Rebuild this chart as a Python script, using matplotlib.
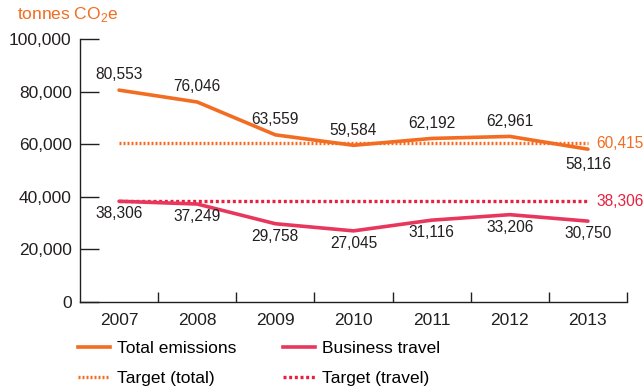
import matplotlib
matplotlib.use("Agg")
import matplotlib.pyplot as plt
from matplotlib.lines import Line2D

plt.rcParams['font.family'] = ['Liberation Sans', 'DejaVu Sans']

years = ['2007', '2008', '2009', '2010', '2011', '2012', '2013']
total_emissions = [80553, 76046, 63559, 59584, 62192, 62961, 58116]
business_travel = [38306, 37249, 29758, 27045, 31116, 33206, 30750]
target_total = 60415
target_travel = 38306
y_ticks = [0, 20000, 40000, 60000, 80000, 100000]

ORANGE = '#F26C21'
PINK = '#E8375D'
RED = '#E8203F'
TEXT = '#231F20'

DOT_TOTAL = (0, (0.6, 0.6))
DOT_TRAVEL = (0, (0.9, 0.8))

fig = plt.figure(figsize=(6.44, 3.92), dpi=100)
ax = fig.add_axes([80 / 644, 1 - 302 / 392, 547 / 644, 263 / 392])

x = list(range(len(years)))

# Targets (dotted)
ax.plot([x[0], x[-1]], [target_total] * 2, color=ORANGE, lw=2.4,
        linestyle=DOT_TOTAL, dash_capstyle='butt')
ax.plot([x[0], x[-1]], [target_travel] * 2, color=RED, lw=2.4,
        linestyle=DOT_TRAVEL, dash_capstyle='butt')

# Actual series
ax.plot(x, total_emissions, color=ORANGE, lw=2.6, solid_capstyle='round',
        solid_joinstyle='round')
ax.plot(x, business_travel, color=PINK, lw=2.6, solid_capstyle='round',
        solid_joinstyle='round')

# Value labels
for i, v in enumerate(total_emissions):
    dy = 11 if i < len(years) - 1 else -11
    ax.annotate(f'{v:,}', (x[i], v), xytext=(0, dy), textcoords='offset points',
                ha='center', va='center', fontsize=11.2, color=TEXT)
for i, v in enumerate(business_travel):
    ax.annotate(f'{v:,}', (x[i], v), xytext=(0, -9), textcoords='offset points',
                ha='center', va='center', fontsize=11.2, color=TEXT)

ax.annotate(f'{target_total:,}', (x[-1], target_total), xytext=(6, 0),
            textcoords='offset points', ha='left', va='center',
            fontsize=11.2, color=ORANGE)
ax.annotate(f'{target_travel:,}', (x[-1], target_travel), xytext=(6, 0),
            textcoords='offset points', ha='left', va='center',
            fontsize=11.2, color=RED)

# Axes styling
ax.set_xlim(-0.5, len(years) - 0.5)
ax.set_ylim(0, 100000)
ax.set_yticks(y_ticks)
ax.set_yticklabels([f'{t:,}' for t in y_ticks], fontsize=12.5, color=TEXT)
ax.tick_params(axis='y', direction='in', length=14, width=1, pad=6, color=TEXT)
ax.set_xticks(x)
ax.set_xticklabels(years, fontsize=12.5, color=TEXT)
ax.tick_params(axis='x', which='major', length=0, pad=8)
ax.set_xticks([i + 0.5 for i in x], minor=True)
ax.tick_params(axis='x', which='minor', direction='in', length=7, width=1,
               color=TEXT)
for s in ['top', 'right']:
    ax.spines[s].set_visible(False)
for s in ['left', 'bottom']:
    ax.spines[s].set_color(TEXT)
    ax.spines[s].set_linewidth(1)

fig.text(17 / 644, 1 - 15 / 392, 'tonnes CO$_\\mathregular{2}$e', color=ORANGE,
         fontsize=12.5, ha='left', va='center')

# Legend: filled column-wise, so order is (col 1 rows, col 2 rows)
handles = [
    Line2D([], [], color=ORANGE, lw=2.6),
    Line2D([], [], color=ORANGE, lw=2.4, linestyle=DOT_TOTAL),
    Line2D([], [], color=PINK, lw=2.6),
    Line2D([], [], color=RED, lw=2.4, linestyle=DOT_TRAVEL),
]
labels = ['Total emissions', 'Target (total)', 'Business travel', 'Target (travel)']
fig.legend(handles, labels,
           loc='upper left', bbox_to_anchor=(78 / 644, 1 - 341 / 392),
           ncol=2, frameon=False, fontsize=12.5, handlelength=1.85,
           handletextpad=0.4, columnspacing=2.7, labelspacing=0.85,
           borderaxespad=0, borderpad=0)

fig.savefig('out.png', dpi=100)
